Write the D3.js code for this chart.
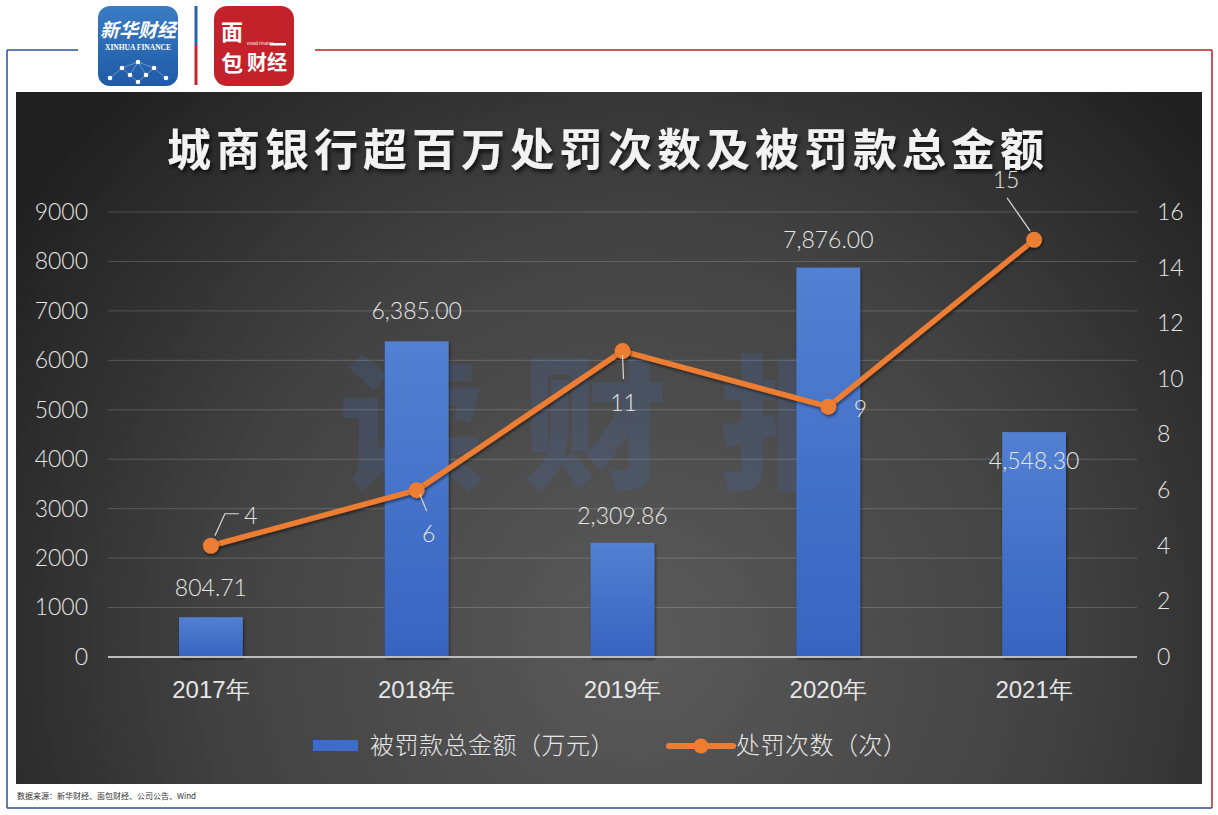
<!DOCTYPE html>
<html><head><meta charset="utf-8">
<script src="https://cdn.jsdelivr.net/npm/d3@7"></script>
<style>
html,body{margin:0;padding:0;background:#fff;}
svg{display:block;font-family:"Noto Sans CJK SC","Noto Sans",sans-serif;}
</style></head>
<body>
<script>
const categories = ["2017年","2018年","2019年","2020年","2021年"];
const amounts = [804.71, 6385.00, 2309.86, 7876.00, 4548.30];
const amountLabels = ["804.71","6,385.00","2,309.86","7,876.00","4,548.30"];
const counts = [4, 6, 11, 9, 15];
const leftTicks = [0,1000,2000,3000,4000,5000,6000,7000,8000,9000];
const rightTicks = [0,2,4,6,8,10,12,14,16];
const title = "城商银行超百万处罚次数及被罚款总金额";
const legendBar = "被罚款总金额（万元）";
const legendLine = "处罚次数（次）";
const source = "数据来源：新华财经、面包财经、公司公告、Wind";

const W = 1218, H = 815;
const svg = d3.select("body").append("svg").attr("width", W).attr("height", H);
const defs = svg.append("defs");

// background gradient
const rg = defs.append("radialGradient").attr("id","bg")
  .attr("gradientUnits","userSpaceOnUse").attr("cx",640).attr("cy",640).attr("r",760);
rg.append("stop").attr("offset","0").attr("stop-color","#5a5a5a");
rg.append("stop").attr("offset","0.55").attr("stop-color","#424242");
rg.append("stop").attr("offset","1").attr("stop-color","#202020");

const bg = defs.append("linearGradient").attr("id","barg").attr("x1",0).attr("x2",0).attr("y1",0).attr("y2",1);
bg.append("stop").attr("offset","0").attr("stop-color","#5280d2");
bg.append("stop").attr("offset","1").attr("stop-color","#3764c0");

const sh = defs.append("filter").attr("id","shadow").attr("x","-10%").attr("y","-10%").attr("width","130%").attr("height","140%");
sh.append("feDropShadow").attr("dx",2).attr("dy",3).attr("stdDeviation",2).attr("flood-color","#000").attr("flood-opacity",0.7);
const sh2 = defs.append("filter").attr("id","lshadow").attr("x","-10%").attr("y","-10%").attr("width","130%").attr("height","140%");
sh2.append("feDropShadow").attr("dx",1).attr("dy",2).attr("stdDeviation",1.5).attr("flood-color","#000").attr("flood-opacity",0.5);

// outer frame
svg.append("line").attr("x1",7).attr("x2",78).attr("y1",50).attr("y2",50).attr("stroke","#2d4f9a").attr("stroke-width",1.5);
svg.append("line").attr("x1",7).attr("x2",7).attr("y1",50).attr("y2",808).attr("stroke","#2d4f9a").attr("stroke-width",1.5);
svg.append("line").attr("x1",7).attr("x2",1212).attr("y1",808).attr("y2",808).attr("stroke","#2d4f9a").attr("stroke-width",1.5);
svg.append("line").attr("x1",315).attr("x2",1212).attr("y1",50).attr("y2",50).attr("stroke","#b5232b").attr("stroke-width",1.5);
svg.append("line").attr("x1",1212).attr("x2",1212).attr("y1",50).attr("y2",808).attr("stroke","#b5232b").attr("stroke-width",1.5);

// logos
const lg1 = defs.append("linearGradient").attr("id","xh").attr("x1",0).attr("x2",0).attr("y1",0).attr("y2",1);
lg1.append("stop").attr("offset","0").attr("stop-color","#3a7cc4");
lg1.append("stop").attr("offset","1").attr("stop-color","#1f5aa6");
svg.append("rect").attr("x",98).attr("y",6).attr("width",80).attr("height",80).attr("rx",12).attr("fill","url(#xh)");
svg.append("text").attr("x",138).attr("y",37).attr("text-anchor","middle").attr("fill","#fff")
  .attr("font-size",19).attr("font-style","italic").attr("font-weight","bold").text("新华财经");
svg.append("text").attr("x",138).attr("y",50).attr("text-anchor","middle").attr("fill","#fff")
  .attr("font-size",7.5).attr("font-family","Liberation Serif").attr("font-weight","bold").text("XINHUA FINANCE");
const dots = [[110,78],[122,68],[138,62],[154,68],[166,78],[130,75],[146,75],[138,82]];
const dg = svg.append("g");
[[0,1],[1,2],[2,3],[3,4],[1,5],[5,7],[7,6],[6,3],[5,2],[2,6]].forEach(([a,b])=>{
  dg.append("line").attr("x1",dots[a][0]).attr("y1",dots[a][1]).attr("x2",dots[b][0]).attr("y2",dots[b][1])
    .attr("stroke","rgba(255,255,255,0.45)").attr("stroke-width",0.7);
});
dots.forEach(d=>dg.append("circle").attr("cx",d[0]).attr("cy",d[1]).attr("r",2.3).attr("fill","#fff"));
svg.append("line").attr("x1",196).attr("x2",196).attr("y1",6).attr("y2",45).attr("stroke","#2a62b0").attr("stroke-width",3);
svg.append("line").attr("x1",196).attr("x2",196).attr("y1",45).attr("y2",85).attr("stroke","#c1272d").attr("stroke-width",3);
svg.append("rect").attr("x",214).attr("y",6).attr("width",80).attr("height",80).attr("rx",13).attr("fill","#c3222b");
svg.append("text").attr("x",232).attr("y",40).attr("text-anchor","middle").attr("fill","#fff").attr("font-size",22).attr("font-weight","bold").text("面");
svg.append("text").attr("x",232).attr("y",71).attr("text-anchor","middle").attr("fill","#fff").attr("font-size",22).attr("font-weight","bold").text("包");
svg.append("text").attr("x",267).attr("y",70).attr("text-anchor","middle").attr("fill","#fff").attr("font-size",20).attr("font-weight","bold").text("财经");
svg.append("text").attr("x",247).attr("y",45).attr("fill","#fff").attr("font-size",4).text("Bread Finance");
svg.append("rect").attr("x",270).attr("y",43).attr("width",16).attr("height",2.5).attr("fill","#fff");

// panel
svg.append("rect").attr("x",16).attr("y",92).attr("width",1186).attr("height",692).attr("fill","url(#bg)");

// watermark
const wm = ["读","财","报"], wmX = [412,595,792];
wm.forEach((c,i)=>svg.append("text").attr("x",wmX[i]).attr("y",478).attr("text-anchor","middle")
  .attr("font-size",145).attr("font-weight","900").attr("fill","rgba(70,110,190,0.2)").text(c));

// title
svg.append("text").attr("x",608).attr("y",166).attr("text-anchor","middle").attr("fill","#f2f2f2")
  .attr("font-size",44).attr("font-weight","bold").attr("letter-spacing",5).attr("filter","url(#shadow)").text(title);

// scales
const x = d3.scaleBand().domain(categories).range([108,1137]).paddingInner(0.69).paddingOuter(0.345);
const yL = d3.scaleLinear().domain([0,9000]).range([657,212]);
const yR = d3.scaleLinear().domain([0,16]).range([657,212]);

// grid
svg.append("g").selectAll("line").data(leftTicks.slice(1)).join("line")
  .attr("x1",108).attr("x2",1137).attr("y1",d=>yL(d)).attr("y2",d=>yL(d))
  .attr("stroke","rgba(255,255,255,0.18)").attr("stroke-width",1);

const numFont = "Lato,'Noto Sans',sans-serif";
// left axis
const axL = svg.append("g").attr("transform","translate(88,0)")
  .call(d3.axisLeft(yL).tickValues(leftTicks).tickFormat(d3.format("d")).tickSize(0).tickPadding(0));
axL.select(".domain").remove();
axL.selectAll("text").attr("fill","#e6e6e6").attr("font-size",23).attr("font-weight",300).attr("font-family",numFont);

// right axis
const axR = svg.append("g").attr("transform","translate(1157,0)")
  .call(d3.axisRight(yR).tickValues(rightTicks).tickSize(0).tickPadding(0));
axR.select(".domain").remove();
axR.selectAll("text").attr("fill","#e6e6e6").attr("font-size",23).attr("font-weight",300).attr("font-family",numFont);

// bars
svg.append("g").selectAll("rect").data(amounts).join("rect")
  .attr("x",(d,i)=>x(categories[i])).attr("width",x.bandwidth())
  .attr("y",d=>yL(d)).attr("height",d=>yL(0)-yL(d))
  .attr("fill","url(#barg)").attr("filter","url(#lshadow)");

// baseline
svg.append("line").attr("x1",108).attr("x2",1137).attr("y1",657).attr("y2",657).attr("stroke","#bdbdbd").attr("stroke-width",2);

// x axis
const axX = svg.append("g").attr("transform","translate(0,690)")
  .call(d3.axisBottom(x).tickSize(0).tickPadding(0));
axX.select(".domain").remove();
axX.selectAll("text").attr("fill","#e6e6e6").attr("font-size",24).attr("dy","0.35em").attr("font-weight",300);

// bar labels (label baseline relative to bar top)
const barLabelDy = [-21, -22, -19, -20, 37];
svg.append("g").selectAll("text").data(amounts).join("text")
  .attr("x",(d,i)=>x(categories[i])+x.bandwidth()/2)
  .attr("y",(d,i)=>yL(d)+barLabelDy[i]).attr("text-anchor","middle")
  .attr("fill","#e6e6e6").attr("font-size",23).attr("font-weight",300).attr("font-family",numFont)
  .text((d,i)=>amountLabels[i]);

// line
const cx = i=>x(categories[i])+x.bandwidth()/2;
const line = d3.line().x((d,i)=>cx(i)).y(d=>yR(d));
svg.append("path").datum(counts).attr("d",line).attr("fill","none")
  .attr("stroke","#ed7d31").attr("stroke-width",5.5).attr("stroke-linejoin","round").attr("filter","url(#lshadow)");
svg.append("g").selectAll("circle").data(counts).join("circle")
  .attr("cx",(d,i)=>cx(i)).attr("cy",d=>yR(d)).attr("r",8).attr("fill","#ed7d31").attr("filter","url(#lshadow)");

// line labels with leader lines
const lblOff = [[40,-30],[12,44],[1,52],[32,2],[-28,-60]];
const leaders = [
  [[4,-10],[14,-32],[28,-32]],
  [[3,4],[10,21]],
  [[0,4],[1,28]],
  null,
  [[-4,-9],[-27,-42]]
];
const lg = svg.append("g");
counts.forEach((d,i)=>{
  const px = cx(i), py = yR(d);
  if (leaders[i]) {
    lg.append("polyline").attr("points",leaders[i].map(p=>[px+p[0],py+p[1]].join(",")).join(" "))
      .attr("fill","none").attr("stroke","#d9d9d9").attr("stroke-width",1.2);
  }
  lg.append("text").attr("x",px+lblOff[i][0]).attr("y",py+lblOff[i][1]).attr("dy","0.35em")
    .attr("text-anchor","middle").attr("fill","#e6e6e6").attr("font-size",23).attr("font-weight",300)
    .attr("font-family",numFont).text(d);
});

// legend
const leg = svg.append("g");
leg.append("rect").attr("x",313).attr("y",740).attr("width",45).attr("height",11).attr("fill","#3d6ccb");
leg.append("text").attr("x",370).attr("y",746).attr("dy","0.35em").attr("fill","#e6e6e6").attr("font-size",24).attr("letter-spacing",0.5).attr("font-weight",300).text(legendBar);
leg.append("line").attr("x1",669).attr("x2",733).attr("y1",746).attr("y2",746).attr("stroke","#ed7d31").attr("stroke-width",6).attr("stroke-linecap","round");
leg.append("circle").attr("cx",701).attr("cy",746).attr("r",7.5).attr("fill","#ed7d31");
leg.append("text").attr("x",736).attr("y",746).attr("dy","0.35em").attr("fill","#e6e6e6").attr("font-size",24).attr("letter-spacing",0.5).attr("font-weight",300).text(legendLine);

// source
svg.append("text").attr("x",17).attr("y",799).attr("fill","#333").attr("font-size",8).text(source);
</script>
</body></html>
